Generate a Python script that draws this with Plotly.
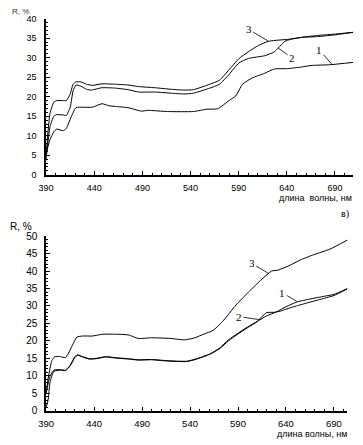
import numpy as np
import plotly.graph_objects as go

# ---------- Top chart data (wavelength nm, R %) ----------
wl_t3 = [390, 394, 398, 401, 408, 411, 415, 418, 421, 426, 432, 438, 448, 462, 475, 486, 503, 520, 533, 543, 560, 570, 580, 590, 600, 611, 621, 631, 641, 655, 672, 688, 709]
r_t3 = [5.2, 15.7, 18.6, 19.0, 19.0, 19.0, 20.7, 23.2, 23.8, 23.8, 23.2, 22.9, 23.3, 23.2, 23.0, 22.6, 22.3, 21.9, 21.7, 21.8, 23.2, 24.2, 26.9, 29.7, 31.5, 33.2, 34.2, 34.5, 34.7, 35.2, 35.4, 35.8, 36.5]

wl_t2 = [390, 394, 398, 401, 408, 411, 415, 418, 421, 426, 432, 437, 448, 462, 475, 486, 503, 520, 533, 543, 560, 570, 580, 590, 600, 617, 627, 638, 644, 658, 672, 688, 709]
r_t2 = [4.0, 12.3, 15.0, 15.4, 15.3, 15.2, 17.3, 21.5, 23.0, 22.7, 21.9, 21.7, 22.3, 22.2, 21.8, 21.2, 21.2, 20.9, 20.7, 20.9, 22.2, 23.2, 25.7, 28.6, 29.8, 30.5, 31.5, 34.2, 34.7, 35.3, 35.7, 36.0, 36.5]

wl_t1 = [390, 394, 398, 401, 408, 411, 416, 421, 428, 438, 448, 455, 462, 475, 489, 496, 516, 543, 557, 568, 580, 587, 594, 604, 617, 627, 641, 655, 665, 685, 709]
r_t1 = [5.5, 9.0, 11.0, 11.7, 11.3, 11.9, 14.8, 17.2, 17.3, 17.3, 18.2, 17.7, 17.5, 17.2, 16.3, 16.5, 16.2, 16.2, 16.8, 16.9, 19.0, 20.2, 23.2, 24.8, 26.0, 27.1, 27.2, 27.6, 28.0, 28.2, 28.8]

# ---------- Bottom chart data ----------
wl_b3 = [390, 393, 396, 399, 405, 410, 413, 418, 422, 428, 438, 449, 466, 476, 486, 500, 520, 534, 544, 554, 564, 574, 588, 601, 615, 625, 632, 642, 656, 669, 686, 704]
r_b3 = [5.1, 10.7, 14.4, 15.5, 15.5, 15.2, 16.3, 19.1, 21.1, 21.4, 21.4, 21.9, 21.9, 21.7, 20.7, 20.9, 20.7, 20.3, 20.8, 21.9, 23.0, 25.6, 30.3, 34.0, 37.7, 40.0, 40.3, 41.4, 43.3, 44.7, 46.3, 48.9]

wl_b1 = [390, 394, 398, 405, 410, 415, 420, 423, 428, 435, 442, 452, 462, 476, 486, 500, 513, 527, 537, 547, 561, 571, 580, 590, 600, 610, 620, 630, 640, 652, 665, 680, 690, 704]
r_b1 = [5.1, 9.8, 11.6, 11.8, 11.6, 13.0, 15.5, 16.0, 15.5, 14.9, 15.0, 15.5, 15.2, 14.9, 14.6, 14.7, 14.4, 14.2, 14.2, 14.9, 16.3, 18.0, 20.3, 22.2, 24.0, 25.6, 27.2, 28.3, 29.8, 31.2, 32.0, 32.8, 33.3, 35.0]

wl_b2 = [390, 392, 394, 398, 405, 410, 415, 420, 423, 428, 435, 442, 452, 462, 476, 486, 500, 513, 527, 537, 547, 561, 571, 580, 590, 600, 610, 615, 620, 628, 635, 640, 652, 665, 680, 690, 704]
r_b2 = [1.0, 3.0, 8.0, 11.3, 11.6, 11.5, 12.8, 15.3, 15.9, 15.4, 14.8, 14.9, 15.4, 15.1, 14.8, 14.5, 14.6, 14.3, 14.1, 14.1, 14.8, 16.2, 17.8, 20.0, 22.0, 23.8, 25.5, 27.0, 28.1, 28.2, 28.6, 29.1, 30.1, 31.1, 32.2, 33.0, 34.9]

x_ticks = [390, 440, 490, 540, 590, 640, 690]
curve_names = ["1", "2", "3"]

FONT = "Liberation Sans, Arial, sans-serif"
SERIF = "Liberation Serif, Times New Roman, serif"

fig = go.Figure()

def add(wl, r, xa, ya):
    fig.add_trace(go.Scatter(x=wl, y=r, mode="lines", xaxis=xa, yaxis=ya,
                             line=dict(color="black", width=1, shape="spline", smoothing=0.5),
                             showlegend=False, hoverinfo="skip"))

add(wl_t1, r_t1, "x", "y")
add(wl_t2, r_t2, "x", "y")
add(wl_t3, r_t3, "x", "y")
add(wl_b1, r_b1, "x2", "y2")
add(wl_b2, r_b2, "x2", "y2")
add(wl_b3, r_b3, "x2", "y2")

def axis_common(size):
    return dict(showgrid=False, zeroline=False, showline=True, linecolor="black", linewidth=1.5,
                ticks="inside", ticklen=4, tickwidth=1, tickcolor="black",
                tickfont=dict(family=FONT, size=size, color="black"))

fig.update_layout(
    width=363, height=445, margin=dict(l=0, r=0, t=0, b=0),
    paper_bgcolor="white", plot_bgcolor="white",
    xaxis=dict(domain=[0.1074, 0.9725], anchor="y", range=[390, 709], tickvals=x_ticks,
               minor=dict(dtick=10, tick0=390, ticks="inside", ticklen=2, tickcolor="black"),
               ticklabelstandoff=4, **axis_common(9)),
    yaxis=dict(domain=[0.6112, 0.9708], anchor="x", range=[0, 40], dtick=5,
               minor=dict(dtick=1, ticks="inside", ticklen=2, tickcolor="black"),
               ticklabelstandoff=6, **axis_common(9)),
    xaxis2=dict(domain=[0.1074, 0.956], anchor="y2", range=[390, 704], tickvals=x_ticks,
                minor=dict(dtick=10, tick0=390, ticks="inside", ticklen=2, tickcolor="black"),
                ticklabelstandoff=3, **axis_common(9.5)),
    yaxis2=dict(domain=[0.0674, 0.4697], anchor="x2", range=[0, 50], dtick=5,
                minor=dict(dtick=1, ticks="inside", ticklen=2, tickcolor="black"),
                ticklabelstandoff=5, **axis_common(10)),
)

ann = []
# axis titles
ann.append(dict(text="R, %", x=0.005, y=1 - 6 / 445, xref="paper", yref="paper", xanchor="left", yanchor="middle",
                showarrow=False, font=dict(family=FONT, size=8, color="#333")))
ann.append(dict(text="R, %", x=0.0, y=1 - 226 / 445, xref="paper", yref="paper", xanchor="left", yanchor="middle",
                showarrow=False, font=dict(family=FONT, size=10, color="black")))
ann.append(dict(text="длина  волны, нм", x=354 / 363, y=1 - 197 / 445, xref="paper", yref="paper", xanchor="right",
                yanchor="middle", showarrow=False, font=dict(family=FONT, size=9, color="black")))
ann.append(dict(text="длина волны, нм", x=349 / 363, y=1 - 439 / 445, xref="paper", yref="paper", xanchor="right",
                yanchor="middle", showarrow=False, font=dict(family=FONT, size=9, color="black")))
ann.append(dict(text="в)", x=345 / 363, y=1 - 213 / 445, xref="paper", yref="paper", xanchor="center",
                yanchor="middle", showarrow=False, font=dict(family=SERIF, size=10, color="black")))

def label(name, wl, r, at, ax, ay, xr, yr):
    ann.append(dict(text=name, x=at, y=float(np.interp(at, wl, r)), xref=xr, yref=yr,
                    showarrow=True, arrowhead=0, arrowwidth=0.8, arrowcolor="black",
                    ax=ax, ay=ay, standoff=0,
                    font=dict(family=SERIF, size=11, color="black")))

label(curve_names[2], wl_t3, r_t3, 621, -20, -12, "x", "y")
label(curve_names[1], wl_t2, r_t2, 631, 14, 10, "x", "y")
label(curve_names[0], wl_t1, r_t1, 687, -13, -15, "x", "y")
label(curve_names[2], wl_b3, r_b3, 622, -17, -10, "x2", "y2")
label(curve_names[0], wl_b1, r_b1, 652, -15, -9, "x2", "y2")
label(curve_names[1], wl_b2, r_b2, 612, -20, -3, "x2", "y2")

fig.update_layout(annotations=ann)
fig.write_html("out.html", config={"displayModeBar": False},
               post_script="document.body.style.margin='0';document.body.style.padding='0';document.body.style.overflow='hidden';")
